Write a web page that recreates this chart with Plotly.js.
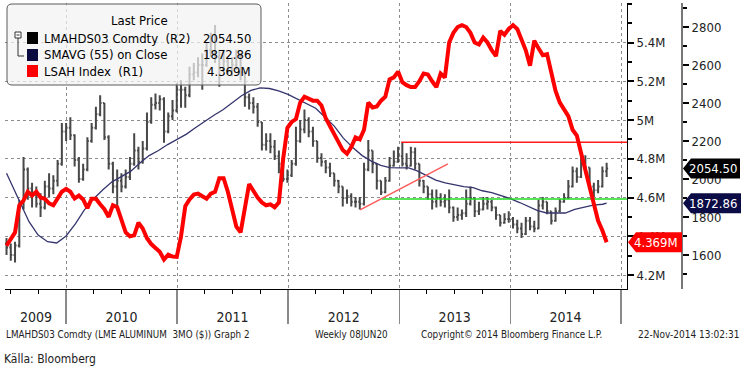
<!DOCTYPE html>
<html><head><meta charset="utf-8">
<script src="https://cdn.plot.ly/plotly-3.0.1.min.js"></script>
<style>html,body{margin:0;padding:0;background:#fff}#chart{width:750px;height:368px}</style>
</head><body><div id="chart"></div><script>
// ---- data ----
const firstWeek = '2009-06-19';   // bi-weekly sampling of the weekly bars
const openP = [1660,1640,1600,1650,1850,2050,1950,1920,1870,1850,
 1960,1950,1990,2080,2250,2270,2230,2100,2000,2050,
 2200,2270,2340,2400,2220,2080,1960,1990,1960,2010,
 2080,2150,2090,2160,2300,2390,2400,2420,2250,2330,
 2360,2470,2470,2440,2550,2560,2600,2600,2680,2720,
 2640,2580,2620,2570,2600,2640,2560,2430,2400,2380,
 2300,2180,2200,2170,2120,2080,2000,2020,2080,2200,
 2260,2310,2250,2200,2110,2090,2060,2030,1990,1960,
 1900,1910,1880,1880,1870,2050,2150,2080,1990,1930,
 1990,2070,2090,2120,2080,2070,2140,2080,1990,1960,
 1920,1880,1900,1880,1890,1850,1800,1810,1820,1870,
 1900,1830,1840,1870,1880,1850,1810,1770,1790,1790,
 1760,1740,1710,1780,1750,1740,1860,1880,1830,1780,
 1830,1880,1900,1960,2040,2010,2080,2060,1960,1940,
 1960,2040];
const highP = [1690,1660,1670,1890,2115,2060,1980,1960,1925,1990,
 2030,2020,2100,2295,2295,2325,2235,2115,2080,2220,
 2295,2380,2440,2400,2230,2090,2050,2030,2050,2115,
 2240,2170,2200,2350,2430,2450,2440,2430,2350,2415,
 2505,2520,2485,2590,2610,2640,2660,2715,2770,2810,
 2680,2680,2630,2640,2680,2660,2560,2450,2430,2400,
 2300,2240,2240,2205,2150,2115,2050,2100,2275,2310,
 2365,2325,2275,2200,2135,2100,2085,2030,1995,1960,
 1945,1925,1905,1905,2085,2205,2150,2080,1990,2010,
 2115,2150,2170,2190,2135,2170,2165,2080,1995,1960,
 1945,1945,1925,1920,1945,1855,1850,1840,1945,1960,
 1900,1880,1905,1905,1890,1855,1810,1820,1830,1800,
 1785,1770,1800,1800,1780,1890,1905,1880,1830,1850,
 1895,1925,1995,2065,2060,2115,2125,2060,1980,1995,
 2065,2085];
const lowP = [1600,1570,1560,1640,1840,1890,1850,1850,1800,1840,
 1905,1920,1960,2070,2200,2205,2065,1980,1990,2040,
 2190,2260,2330,2205,2050,1925,1850,1930,1950,1995,
 2070,2050,2080,2150,2290,2365,2360,2190,2240,2310,
 2350,2375,2375,2430,2520,2535,2470,2590,2640,2610,
 2485,2570,2550,2540,2575,2520,2380,2365,2345,2275,
 2150,2150,2135,2100,2030,1985,1980,2010,2070,2190,
 2240,2220,2170,2085,2065,2030,2010,1960,1925,1855,
 1870,1855,1850,1840,1860,2040,2030,1945,1915,1925,
 1985,2065,2085,2065,2050,2065,2050,1960,1925,1890,
 1840,1850,1855,1850,1820,1775,1780,1785,1800,1860,
 1800,1810,1835,1840,1830,1785,1750,1765,1770,1740,
 1715,1690,1705,1730,1720,1735,1840,1815,1760,1775,
 1825,1875,1895,1955,1980,2005,2030,1945,1905,1925,
 1955,2010];
const closeP = [1640,1600,1650,1850,2050,1950,1920,1870,1850,1960,
 1950,1990,2080,2250,2270,2230,2100,2000,2050,2200,
 2270,2340,2400,2220,2080,1960,1990,1960,2010,2080,
 2150,2090,2160,2300,2390,2400,2420,2250,2330,2360,
 2470,2470,2440,2550,2560,2600,2600,2680,2720,2640,
 2580,2620,2570,2600,2640,2560,2430,2400,2380,2300,
 2180,2200,2170,2120,2080,2000,2020,2080,2200,2260,
 2310,2250,2200,2110,2090,2060,2030,1990,1960,1900,
 1910,1880,1880,1870,2050,2150,2080,1990,1930,1990,
 2070,2090,2120,2080,2070,2140,2080,1990,1960,1920,
 1880,1900,1880,1890,1850,1800,1810,1820,1870,1900,
 1830,1840,1870,1880,1850,1810,1770,1790,1790,1760,
 1740,1710,1780,1750,1740,1860,1880,1830,1780,1830,
 1880,1900,1960,2040,2010,2080,2060,1960,1940,1960,
 2040,2054.50];
// LSAH Index, millions (R1)
const lsah = [4.351,4.39,4.42,4.56,4.585,4.63,4.61,4.63,4.60,4.594,
 4.57,4.56,4.60,4.63,4.645,4.63,4.595,4.61,4.59,4.545,
 4.594,4.594,4.565,4.54,4.50,4.56,4.55,4.48,4.42,4.40,
 4.405,4.47,4.44,4.39,4.36,4.34,4.32,4.28,4.305,4.295,
 4.294,4.40,4.555,4.59,4.615,4.62,4.605,4.594,4.62,4.63,
 4.70,4.70,4.63,4.535,4.45,4.42,4.55,4.67,4.635,4.60,
 4.575,4.56,4.565,4.55,4.575,4.80,4.96,4.99,5.005,5.09,
 5.12,5.11,5.10,5.10,5.075,5.01,4.97,4.93,4.89,4.845,
 4.826,4.86,4.91,4.90,4.95,5.09,5.065,5.07,5.10,5.12,
 5.21,5.22,5.25,5.195,5.18,5.17,5.17,5.20,5.24,5.235,
 5.20,5.17,5.24,5.22,5.40,5.45,5.48,5.49,5.48,5.45,
 5.40,5.39,5.425,5.40,5.36,5.33,5.46,5.44,5.47,5.49,
 5.47,5.42,5.36,5.28,5.41,5.37,5.335,5.34,5.24,5.15,
 5.09,5.05,5.02,4.95,4.92,4.83,4.74,4.66,4.58,4.48,
 4.43,4.369];
// SMAVG(55) monthly readings
const smaDates = ['2009-06-19',
 '2009-07-01','2009-08-01','2009-09-01','2009-10-01','2009-11-01','2009-12-01',
 '2010-01-01','2010-02-01','2010-03-01','2010-04-01','2010-05-01','2010-06-01','2010-07-01','2010-08-01','2010-09-01','2010-10-01','2010-11-01','2010-12-01',
 '2011-01-01','2011-02-01','2011-03-01','2011-04-01','2011-05-01','2011-06-01','2011-07-01','2011-08-01','2011-09-01','2011-10-01','2011-11-01','2011-12-01',
 '2012-01-01','2012-02-01','2012-03-01','2012-04-01','2012-05-01','2012-06-01','2012-07-01','2012-08-01','2012-09-01','2012-10-01','2012-11-01','2012-12-01',
 '2013-01-01','2013-02-01','2013-03-01','2013-04-01','2013-05-01','2013-06-01','2013-07-01','2013-08-01','2013-09-01','2013-10-01','2013-11-01','2013-12-01',
 '2014-01-01','2014-02-01','2014-03-01','2014-04-01','2014-05-01','2014-06-01','2014-07-01','2014-08-01','2014-09-01','2014-10-01','2014-11-01','2014-11-14'];
const smaVals = [2030,
 1990,1880,1775,1705,1670,1663,
 1700,1765,1835,1895,1942,1985,2014,2040,2084,2123,2150,2181,
 2208,2236,2268,2302,2334,2364,2400,2438,2466,2479,2476,2463,
 2445,2420,2397,2372,2326,2278,2215,2165,2123,2094,2072,2060,
 2058,2058,2043,2018,1994,1979,1969,1960,1954,1938,1928,1914,
 1897,1876,1856,1833,1821,1821,1821,1840,1852,1862,1867,1872.86];
// analyst lines (R2 scale)
const resistLevel = 2193, resistStart = '2013-01-07';
const supportLevel = 1895, supportStart = '2012-11-05';
const trendDates = ['2012-08-25','2013-06-10'], trendVals = [1837, 2079];
// axes
const xRange = ['2009-06-14','2015-01-20'];
const yearBounds = ['2010-01-01','2011-01-01','2012-01-01','2013-01-01','2014-01-01','2015-01-01'];
const yearLabelPos = ['2009-09-24','2010-07-02','2011-07-02','2012-07-02','2013-07-02','2014-07-02'];
const yearLabels = ['2009','2010','2011','2012','2013','2014'];
const r2Ticks = [1600,1800,2000,2200,2400,2600,2800];
const r1Ticks = [4.2,4.4,4.6,4.8,5.0,5.2,5.4];
const r1Text = ['4.2M','4.4M','4.6M','4.8M','5M','5.2M','5.4M'];
const legendNames = ['LMAHDS03 Comdty  (R2)','SMAVG (55) on Close','LSAH Index  (R1)'];
const legendColors = ['#000000','#0b0b3f','#ff0000'];
const lastVals = [closeP[closeP.length-1].toFixed(2), smaVals[smaVals.length-1].toFixed(2), lsah[lsah.length-1].toFixed(3)+'M'];

// ---- build ----
const dates = [];
{ const t0 = Date.parse(firstWeek+'T00:00:00Z');
  for (let i=0;i<closeP.length;i++) dates.push(new Date(t0+i*14*86400000).toISOString().slice(0,10)); }

const W=750,H=368,ML=5,MR=20,MT=3,MB=79;
const pw=W-ML-MR, ph=H-MT-MB;
const px = X => (X-ML)/pw;
const py = Y => (H-MB-Y)/ph;
const FONT = 'DejaVu Sans Condensed, DejaVu Sans, sans-serif';

const traces = [
 {type:'ohlc', x:dates, open:openP, high:highP, low:lowP, close:closeP, xaxis:'x', yaxis:'y',
  increasing:{line:{color:'#484848', width:2}}, decreasing:{line:{color:'#484848', width:2}},
  tickwidth:0.35, hoverinfo:'skip', showlegend:false},
 {type:'scatter', mode:'lines', x:smaDates, y:smaVals, xaxis:'x', yaxis:'y',
  line:{color:'#35356e', width:1.3}, hoverinfo:'skip', showlegend:false},
 {type:'scatter', mode:'lines', x:[resistStart, xRange[1]], y:[resistLevel,resistLevel], xaxis:'x', yaxis:'y',
  line:{color:'#ff1a1a', width:1.5}, hoverinfo:'skip', showlegend:false},
 {type:'scatter', mode:'lines', x:[supportStart, xRange[1]], y:[supportLevel,supportLevel], xaxis:'x', yaxis:'y',
  line:{color:'#22dd22', width:1.5}, hoverinfo:'skip', showlegend:false},
 {type:'scatter', mode:'lines', x:trendDates, y:trendVals, xaxis:'x', yaxis:'y',
  line:{color:'#ff5a5a', width:1.5}, hoverinfo:'skip', showlegend:false},
 {type:'scatter', mode:'markers', x:[yearLabelPos[0]], y:[r2Ticks[0]], xaxis:'x2', yaxis:'y',
  marker:{opacity:0}, hoverinfo:'skip', showlegend:false},
 {type:'scatter', mode:'lines', x:dates, y:lsah, xaxis:'x', yaxis:'y2',
  line:{color:'#ff0000', width:4, shape:'linear'}, hoverinfo:'skip', showlegend:false}
];

const shapes = [];
const annotations = [];
// legend box
shapes.push({type:'path', xref:'paper', yref:'paper', xsizemode:'pixel', ysizemode:'pixel',
  xanchor:px(7), yanchor:py(4),
  path:'M5,0 H249 Q254,0 254,-5 V-76 Q254,-81 249,-81 H5 Q0,-81 0,-76 V-5 Q0,0 5,0 Z',
  fillcolor:'rgba(242,242,242,0.72)', line:{color:'#5a5a5a', width:1}, layer:'above'});
annotations.push({xref:'paper', yref:'paper', x:px(139), y:py(21), text:'Last Price', showarrow:false,
  xanchor:'center', yanchor:'middle', font:{family:FONT, size:13, color:'#000'}});
// tree icon
shapes.push({type:'rect', xref:'paper', yref:'paper', x0:px(15), x1:px(21), y0:py(32), y1:py(38),
  line:{color:'#333', width:1}, fillcolor:'#fff', layer:'above'});
shapes.push({type:'line', xref:'paper', yref:'paper', x0:px(16.5), x1:px(19.5), y0:py(35), y1:py(35), line:{color:'#333', width:1}, layer:'above'});
shapes.push({type:'path', xref:'paper', yref:'paper', path:`M${px(18)},${py(38)} L${px(18)},${py(56)} L${px(24)},${py(56)}`,
  line:{color:'#333', width:1}, layer:'above'});
const rowY = [38,55,71];
legendNames.forEach((n,i)=>{
  shapes.push({type:'rect', xref:'paper', yref:'paper', x0:px(27), x1:px(38), y0:py(rowY[i]+6), y1:py(rowY[i]-6),
    fillcolor:legendColors[i], line:{width:0}, layer:'above'});
  annotations.push({xref:'paper', yref:'paper', x:px(42), y:py(rowY[i]), text:n, showarrow:false,
    xanchor:'left', yanchor:'middle', font:{family:FONT, size:13, color:'#000'}});
  annotations.push({xref:'paper', yref:'paper', x:px(253), y:py(rowY[i]), text:lastVals[i], showarrow:false,
    xanchor:'right', yanchor:'middle', font:{family:FONT, size:13, color:'#000'}});
});
// right-side last value tags
const tagPath = w => `M1,0 L9,10 L${w},10 L${w},-10 L9,-10 Z`;
shapes.push({type:'path', xref:'paper', yref:'y', xsizemode:'pixel', ysizemode:'pixel', xanchor:px(682), yanchor:closeP[closeP.length-1],
  path:tagPath(58), fillcolor:'#000', line:{width:0}, layer:'above'});
shapes.push({type:'path', xref:'paper', yref:'y', xsizemode:'pixel', ysizemode:'pixel', xanchor:px(682), yanchor:smaVals[smaVals.length-1],
  path:tagPath(59), fillcolor:'#0b0b45', line:{width:0}, layer:'above'});
shapes.push({type:'path', xref:'paper', yref:'y2', xsizemode:'pixel', ysizemode:'pixel', xanchor:px(627), yanchor:lsah[lsah.length-1],
  path:tagPath(55), fillcolor:'#ff0000', line:{width:0}, layer:'above'});
annotations.push({xref:'paper', yref:'y', x:px(713), y:closeP[closeP.length-1], text:lastVals[0], showarrow:false,
  xanchor:'center', yanchor:'middle', font:{family:FONT, size:13, color:'#fff'}});
annotations.push({xref:'paper', yref:'y', x:px(713), y:smaVals[smaVals.length-1], text:lastVals[1], showarrow:false,
  xanchor:'center', yanchor:'middle', font:{family:FONT, size:13, color:'#fff'}});
annotations.push({xref:'paper', yref:'y2', x:px(656), y:lsah[lsah.length-1], text:lastVals[2], showarrow:false,
  xanchor:'center', yanchor:'middle', font:{family:FONT, size:13, color:'#fff'}});
// footer
const foot = (X,Y,t,size,fam)=>annotations.push({xref:'paper', yref:'paper', x:px(X), y:py(Y), text:t, showarrow:false,
  xanchor:'left', yanchor:'middle', font:{family:fam||FONT, size:size, color:'#222'}});
foot(4,334,'LMAHDS03 Comdty (LME ALUMINUM  3MO ($)) Graph 2',9.8);
foot(313,334,'Weekly 08JUN20',9.8);
foot(419,334,'Copyright© 2014 Bloomberg Finance L.P.',9.8);
foot(636,334,'22-Nov-2014 13:02:31',10);
foot(2,359,'Källa: Bloomberg',12,'Liberation Sans Narrow, DejaVu Sans Condensed, sans-serif');

const layout = {
  width:W, height:H, margin:{l:ML, r:MR, t:MT, b:MB, pad:0},
  paper_bgcolor:'#fff', plot_bgcolor:'#fff', showlegend:false, hovermode:false,
  font:{family:FONT, size:13, color:'#000'},
  xaxis:{type:'date', domain:[0, px(627)], range:xRange, anchor:'y', rangeslider:{visible:false},
    tickmode:'array', tickvals:yearBounds, showticklabels:false, ticks:'outside', ticklen:34, tickwidth:1.5, tickcolor:'#8a8a8a',
    showgrid:true, gridcolor:'#8c8c8c', griddash:'dot', gridwidth:1, zeroline:false,
    showline:true, linecolor:'#000', linewidth:1,
    minor:{ticks:'outside', ticklen:4, tickcolor:'#000', tickwidth:1, dtick:'M3', tick0:'2009-01-01', showgrid:false}},
  xaxis2:{type:'date', overlaying:'x', anchor:'y', side:'bottom', range:xRange, tickmode:'array', tickvals:yearLabelPos, ticktext:yearLabels,
    ticks:'outside', ticklen:15, tickcolor:'rgba(0,0,0,0)', showgrid:false, showline:false, zeroline:false,
    tickfont:{family:FONT, size:14, color:'#222'}},
  yaxis:{anchor:'free', position:px(682), side:'right', range:[1421,2926], tickmode:'array', tickvals:r2Ticks,
    ticks:'outside', ticklen:6, tickwidth:2, tickcolor:'#000', showgrid:false, zeroline:false,
    showline:true, linecolor:'#777', linewidth:2, tickfont:{family:FONT, size:13, color:'#222'},
    minor:{ticks:'outside', ticklen:4, tickcolor:'#000', dtick:100, tick0:0, showgrid:false}},
  yaxis2:{overlaying:'y', anchor:'x', side:'right', range:[4.128,5.604], tickmode:'array', tickvals:r1Ticks, ticktext:r1Text,
    ticks:'outside', ticklen:6, tickwidth:2, tickcolor:'#000', showgrid:true, gridcolor:'#8c8c8c', griddash:'dot', gridwidth:1,
    zeroline:false, showline:true, linecolor:'#000', linewidth:1, tickfont:{family:FONT, size:13, color:'#222'},
    minor:{ticks:'outside', ticklen:4, tickcolor:'#000', dtick:0.1, tick0:0, showgrid:false}},
  shapes:shapes, annotations:annotations
};
Plotly.newPlot('chart', traces, layout, {displayModeBar:false, staticPlot:true});
</script></body></html>
